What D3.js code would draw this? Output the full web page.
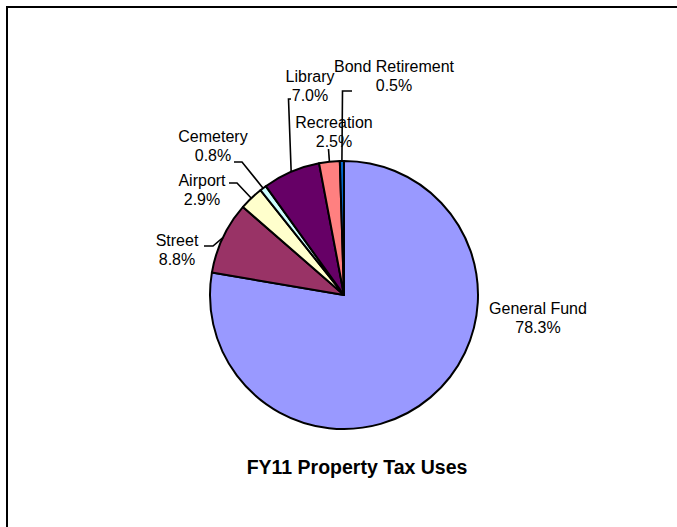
<!DOCTYPE html>
<html>
<head>
<meta charset="utf-8">
<script src="https://cdn.jsdelivr.net/npm/d3@7"></script>
<style>
  html, body { margin: 0; padding: 0; background: #fff; overflow: hidden; }
  svg { display: block; }
  text { font-family: "Liberation Sans", Arial, sans-serif; fill: #000; }
</style>
</head>
<body>
<svg id="chart" width="677" height="527"></svg>
<script>
// ---- data ----
const categories = ["General Fund", "Street", "Airport", "Cemetery", "Library", "Recreation", "Bond Retirement"];
const percents   = [78.3, 8.8, 2.9, 0.8, 7.0, 2.5, 0.5];
const colors     = ["#9999FF", "#993366", "#FFFFCC", "#CCFFFF", "#660066", "#FF8080", "#0066CC"];
const title = "FY11 Property Tax Uses";

// ---- layout (label anchors: centre x, first baseline; leader points before the arc edge) ----
const labelLayout = [
  { x: 538, y: 314, leader: null },
  { x: 177, y: 246, leader: [[204, 246], [213, 246]] },
  { x: 202, y: 186, leader: [[229, 183], [237, 183]] },
  { x: 213, y: 142, leader: [[234, 162], [242, 162]] },
  { x: 310, y: 82,  leader: [[291, 99], [288.5, 99]] },
  { x: 334, y: 128, leader: [[328.5, 149]] },
  { x: 394, y: 72,  leader: [[352, 91], [342.5, 91]] }
];

const svg = d3.select("#chart");
const W = 677, H = 527;
const cx = 344, cy = 295, R = 134;

// border of the chart area: only top and left edges are visible
svg.append("path")
  .attr("d", d3.line()([[7, H], [7, 7], [W, 7]]))
  .attr("fill", "none")
  .attr("stroke", "#000").attr("stroke-width", 2);

const data = categories.map((c, i) => ({ name: c, value: percents[i], color: colors[i], layout: labelLayout[i] }));

const pie = d3.pie().sort(null).value(d => d.value).startAngle(0).endAngle(2 * Math.PI);
const arcs = pie(data);
const arc = d3.arc().innerRadius(0).outerRadius(R);

const g = svg.append("g").attr("transform", `translate(${cx},${cy})`);

g.selectAll("path.slice")
  .data(arcs)
  .join("path")
  .attr("class", "slice")
  .attr("d", arc)
  .attr("fill", d => d.data.color)
  .attr("stroke", "#000")
  .attr("stroke-width", 2)
  .attr("stroke-linejoin", "round");

// leader lines: from label elbow to point on the arc edge at the slice mid-angle
const line = d3.line();
arcs.forEach(a => {
  const L = a.data.layout;
  if (!L.leader) return;
  const mid = (a.startAngle + a.endAngle) / 2;
  const edge = [cx + R * Math.sin(mid), cy - R * Math.cos(mid)];
  const pts = L.leader.concat([edge]);
  svg.append("path")
    .attr("d", line(pts))
    .attr("fill", "none")
    .attr("stroke", "#000")
    .attr("stroke-width", 1.6);
});

// labels
arcs.forEach(a => {
  const L = a.data.layout;
  const t = svg.append("text")
    .attr("text-anchor", "middle")
    .attr("font-size", 16);
  t.append("tspan").attr("x", L.x).attr("y", L.y).text(a.data.name);
  t.append("tspan").attr("x", L.x).attr("y", L.y + 18.7).text(a.data.value.toFixed(1) + "%");
});

// title
svg.append("text")
  .attr("x", 357).attr("y", 474)
  .attr("text-anchor", "middle")
  .attr("font-size", 19.5)
  .attr("font-weight", "bold")
  .text(title);
</script>
</body>
</html>
